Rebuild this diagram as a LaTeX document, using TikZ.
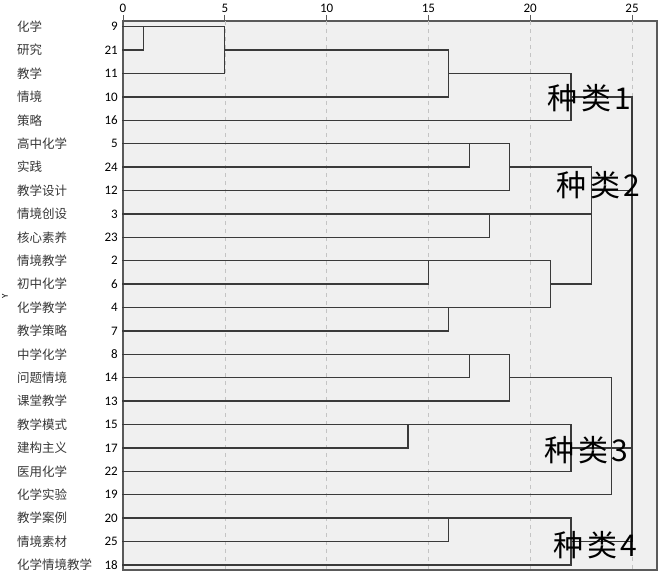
\documentclass[tikz,border=0pt]{standalone}
\usepackage{fontspec}
\setmainfont{Carlito}
\newfontfamily\cjk{Noto Sans CJK SC}
\definecolor{plotbg}{HTML}{F0F0F0}
\definecolor{framec}{HTML}{5A5A5A}
\definecolor{gridc}{HTML}{C4C4C4}
\definecolor{linec}{HTML}{3A3A3A}
\begin{document}
\begin{tikzpicture}[x=1pt,y=-1pt,
  dend/.style={draw=linec, line width=1.25pt, line cap=rect},
  lbl/.style={font=\cjk\fontsize{12.5}{14}\selectfont, text=black!78, anchor=west, inner sep=0pt},
  num/.style={font=\fontsize{13}{15}\selectfont, anchor=east, inner sep=0pt},
  ticklbl/.style={font=\fontsize{13}{15}\selectfont, inner sep=0pt},
  hand/.style={font=\cjk\fontsize{30}{32}\selectfont, inner sep=0pt, text=black}]
\useasboundingbox (0,0) rectangle (661,572);
\fill[white] (0,0) rectangle (661,572);
\draw[fill=plotbg, draw=framec, line width=1.2pt] (123,21) rectangle (657,570);
\node[rotate=90, font=\fontsize{9}{10}\selectfont, inner sep=0pt] (ylab) at (5,296) {Y};
\begin{scope}[shift={(123,3.3)}, x=20.36pt, y=-23.4pt]
  % grid and ticks
  \foreach \v in {5,10,...,25}
    \draw[gridc, dash pattern=on 4pt off 4pt] (\v,0.76) -- (\v,24.22);
  \foreach \v in {0,5,...,25}{
    \draw[framec, line width=0.8pt] (\v,0.5) -- (\v,0.76);
    \node[ticklbl] (t\v) at (\v,0.2) {\v};
  }
  % rows
  \foreach \r/\name/\num/\e in {
    1/化学/9/5, 2/研究/21/1, 3/教学/11/5, 4/情境/10/16, 5/策略/16/22,
    6/高中化学/5/19, 7/实践/24/17, 8/教学设计/12/19, 9/情境创设/3/23,
    10/核心素养/23/18, 11/情境教学/2/21, 12/初中化学/6/15, 13/化学教学/4/21,
    14/教学策略/7/16, 15/中学化学/8/19, 16/问题情境/14/17, 17/课堂教学/13/19,
    18/教学模式/15/22, 19/建构主义/17/14, 20/医用化学/22/22, 21/化学实验/19/24,
    22/教学案例/20/22, 23/情境素材/25/16, 24/化学情境教学/18/22}{
    \node[lbl] (l\r) at (-5.21,\r) {\name};
    \node[num] (n\r) at (-0.25,\r) {\num};
    \coordinate (s\r) at (0,\r);
    \coordinate (e\r) at (\e,\r);
    \draw[dend] (s\r) -- (e\r);
  }
  % vertical joins
  \foreach \x/\a/\b in {1/1/2, 5/1/3, 16/2/4, 22/3/5, 17/6/7, 19/6/8, 18/9/10,
    15/11/12, 16/13/14, 21/11/13, 23/7/12, 17/15/16, 19/15/17, 14/18/19,
    22/18/20, 24/16/21, 16/22/23, 22/22/24, 25/4/23}
    \draw[dend] (\x,\a) -- (\x,\b);
  % cluster links
  \foreach \r/\a/\b in {2/5/16, 3/16/22, 4/22/25, 7/19/23, 8/23/25, 12/21/23,
    16/19/24, 19/22/25, 23/22/25}
    \draw[dend] (\a,\r) -- (\b,\r);
\end{scope}
\node[hand] (k1) at (589,98) {种\hspace{4pt}类\hspace{3pt}1};
\node[hand] (k2) at (598,185) {种\hspace{4pt}类\hspace{3pt}2};
\node[hand] (k3) at (586,450) {种\hspace{4pt}类\hspace{3pt}3};
\node[hand] (k4) at (595,545) {种\hspace{4pt}类\hspace{3pt}4};
\end{tikzpicture}
\end{document}
